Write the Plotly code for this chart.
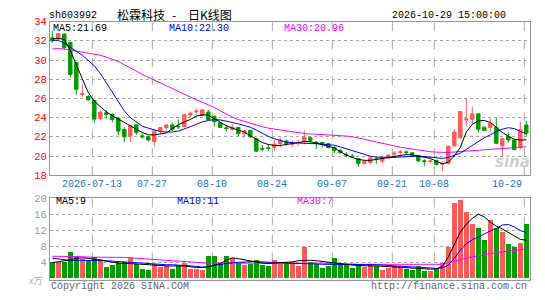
import plotly.graph_objects as go

# ---------------- data ----------------
idx = list(range(80))
opens = [32.3, 32.2, 32.7, 31.85, 29.75, 26.4, 26.2, 25.8, 23.9, 24.5,
         24.35, 23.95, 22.75, 22.1, 23.25, 22.1, 22.0, 21.5, 22.67, 22.97,
         23.23, 23.1, 23.07, 24.25, 24.62, 24.23, 24.57, 24.13, 23.47, 22.93,
         22.8, 22.97, 22.33, 22.67, 21.8, 20.78, 20.85, 20.9, 21.3, 21.57,
         21.23, 21.38, 21.57, 21.9, 21.43, 21.4, 21.3, 20.9, 20.6, 20.17,
         20.0, 19.73, 19.23, 19.33, 19.7, 19.47, 19.8, 20.2, 20.37, 20.43,
         20.33, 20.07, 19.5, 19.43, 19.55, 19.15, 19.23, 21.07, 21.9, 23.75,
         23.83, 24.4, 23.0, 22.97, 22.97, 21.07, 22.07, 21.67, 20.9, 23.23]
highs = [33.0, 32.8, 32.8, 31.9, 29.8, 27.45, 26.35, 25.85, 24.75, 24.8,
         24.4, 24.0, 23.0, 23.2, 23.3, 22.35, 22.05, 22.65, 23.0, 23.25,
         23.5, 23.8, 24.35, 24.63, 24.97, 24.9, 24.83, 24.2, 23.55, 23.23,
         23.33, 23.0, 22.67, 22.73, 21.9, 21.13, 21.23, 21.7, 21.9, 21.7,
         21.63, 21.73, 22.65, 22.07, 21.57, 21.45, 21.35, 21.0, 20.73, 20.4,
         20.23, 19.8, 19.55, 19.9, 19.9, 19.97, 20.2, 20.5, 20.63, 20.57,
         20.4, 20.1, 19.67, 19.67, 19.6, 19.45, 21.07, 22.8, 24.63, 26.0,
         25.13, 24.4, 23.05, 23.9, 23.95, 21.8, 22.45, 21.7, 23.6, 23.67]
lows = [31.8, 32.1, 31.0, 28.2, 26.4, 26.15, 25.75, 23.45, 23.75, 23.9,
        23.5, 22.15, 21.45, 21.45, 22.2, 21.8, 21.5, 20.97, 22.25, 22.67,
        22.55, 22.8, 23.0, 24.07, 24.3, 24.13, 23.73, 23.07, 22.9, 22.57,
        22.63, 22.07, 21.9, 21.9, 20.45, 20.5, 20.5, 20.5, 20.9, 21.07,
        20.9, 21.07, 21.2, 21.23, 20.73, 20.9, 20.8, 20.3, 20.23, 19.9,
        19.77, 18.9, 19.1, 19.13, 19.2, 19.3, 19.75, 19.97, 20.07, 20.15,
        19.97, 19.37, 18.93, 19.23, 19.0, 18.4, 19.13, 20.9, 21.75, 23.2,
        23.3, 22.47, 22.6, 22.55, 21.25, 19.85, 21.4, 20.6, 20.7, 22.13]
closes = [32.0, 32.75, 31.3, 28.5, 26.95, 26.5, 25.85, 23.85, 24.55, 24.35,
          23.8, 22.6, 22.0, 23.15, 22.45, 22.0, 21.67, 22.6, 22.97, 23.23,
          22.8, 23.05, 24.3, 24.45, 24.68, 24.8, 23.8, 23.57, 22.97, 22.87,
          23.0, 22.33, 22.63, 22.0, 20.5, 20.72, 20.8, 21.23, 21.63, 21.3,
          21.4, 21.42, 21.97, 21.63, 21.37, 21.25, 20.88, 20.57, 20.35, 20.1,
          19.95, 19.23, 19.4, 19.8, 19.63, 19.78, 20.1, 20.28, 20.43, 20.38,
          20.1, 19.5, 19.43, 19.48, 19.13, 19.22, 21.03, 22.5, 24.63, 23.85,
          24.4, 22.8, 22.67, 23.4, 21.33, 21.8, 21.67, 20.67, 22.73, 22.4]
ma5 = [32.2, 32.25, 32.15, 31.0, 29.5, 28.0, 26.6, 25.7, 25.1, 24.6,
       24.2, 23.85, 23.5, 23.1, 22.8, 22.45, 22.2, 22.2, 22.3, 22.4,
       22.85, 23.25, 23.55, 23.8, 24.15, 24.3, 24.25, 23.9, 23.5, 23.15,
       22.9, 22.7, 22.5, 22.1, 21.75, 21.4, 21.2, 21.1, 21.1, 21.2,
       21.35, 21.45, 21.5, 21.5, 21.35, 21.15, 21.0, 20.85, 20.45, 20.1,
       19.85, 19.65, 19.55, 19.55, 19.65, 19.75, 19.9, 20.0, 20.1, 20.15,
       20.1, 20.0, 19.85, 19.75, 19.45, 19.2, 19.35, 20.0, 20.9, 22.5,
       23.3, 23.65, 23.7, 23.5, 23.0, 22.45, 22.05, 21.75, 21.65, 21.69]
ma10 = [32.05, 32.05, 31.75, 31.3, 30.9, 30.5, 30.0, 29.4, 28.6, 27.6,
        26.6, 25.6, 24.7, 24.0, 23.5, 23.1, 22.9, 22.7, 22.55, 22.5,
        22.5, 22.6, 22.8, 23.05, 23.3, 23.55, 23.7, 23.8, 23.75, 23.65,
        23.5, 23.35, 23.2, 23.0, 22.7, 22.35, 22.05, 21.8, 21.6, 21.45,
        21.38, 21.33, 21.3, 21.3, 21.28, 21.25, 21.2, 21.13, 20.95, 20.75,
        20.5, 20.3, 20.12, 19.98, 19.88, 19.85, 19.85, 19.85, 19.9, 19.95,
        20.0, 19.98, 19.95, 19.9, 19.8, 19.75, 19.85, 20.05, 20.3, 20.7,
        21.1, 21.5, 21.9, 22.2, 22.55, 22.8, 22.95, 22.85, 22.6, 22.3]
ma30 = [31.15, 31.2, 31.15, 31.05, 30.95, 30.8, 30.7, 30.65, 30.5, 30.3,
        30.1, 29.85, 29.5, 29.2, 28.85, 28.5, 28.2, 27.9, 27.6, 27.3,
        27.0, 26.75, 26.45, 26.15, 25.85, 25.6, 25.35, 25.05, 24.7, 24.35,
        24.05, 23.8, 23.6, 23.4, 23.2, 23.05, 22.9, 22.8, 22.7, 22.6,
        22.5, 22.42, 22.35, 22.3, 22.27, 22.25, 22.23, 22.2, 22.15, 22.08,
        22.0, 21.9, 21.75, 21.6, 21.45, 21.3, 21.15, 21.05, 20.92, 20.82,
        20.72, 20.63, 20.55, 20.45, 20.4, 20.35, 20.37, 20.42, 20.47, 20.52,
        20.57, 20.62, 20.67, 20.72, 20.77, 20.82, 20.87, 20.91, 20.94, 20.96]
volume = [4.1, 4.1, 4.2, 6.5, 5.5, 4.9, 4.3, 5.4, 4.9, 2.8,
          3.4, 3.9, 4.2, 5.1, 3.5, 2.3, 2.1, 3.5, 2.9, 3.1,
          2.3, 3.1, 3.9, 2.3, 2.3, 2.1, 5.7, 5.7, 3.5, 5.5,
          5.0, 3.9, 3.4, 3.7, 4.7, 3.4, 3.1, 4.7, 3.7, 3.9,
          4.2, 3.1, 7.7, 4.2, 3.7, 2.7, 3.1, 5.1, 3.9, 3.5,
          2.5, 3.7, 2.9, 3.5, 3.1, 2.1, 2.6, 3.1, 3.1, 2.3,
          2.1, 3.0, 1.9, 1.9, 2.5, 3.9, 7.9, 18.8, 19.4, 16.4,
          13.6, 12.5, 9.5, 14.5, 12.5, 11.5, 8.6, 7.7, 8.9, 13.6]
vma5 = [3.9, 4.1, 4.3, 4.6, 5.0, 5.1, 5.0, 4.8, 4.6, 4.3,
        4.0, 3.8, 3.7, 3.7, 3.6, 3.4, 3.3, 3.2, 3.1, 3.1,
        3.1, 3.1, 3.1, 2.9, 2.7, 2.7, 2.9, 3.3, 3.7, 4.5,
        5.1, 4.9, 4.6, 4.3, 4.0, 3.8, 3.7, 3.8, 3.9, 3.9,
        4.1, 4.4, 4.5, 4.5, 4.4, 4.2, 4.1, 3.9, 3.7, 3.5,
        3.3, 3.2, 3.1, 3.1, 3.1, 3.0, 2.9, 2.8, 2.7, 2.7,
        2.6, 2.5, 2.4, 2.3, 2.3, 3.0, 5.3, 8.5, 11.5, 13.5,
        14.9, 16.0, 15.3, 14.0, 13.0, 12.3, 11.4, 10.6, 9.7, 9.5]
vma10 = [5.0, 4.8, 4.6, 4.5, 4.5, 4.5, 4.5, 4.5, 4.5, 4.4,
         4.3, 4.2, 4.1, 4.0, 3.9, 3.8, 3.6, 3.5, 3.5, 3.4,
         3.4, 3.3, 3.3, 3.2, 3.0, 2.8, 2.9, 3.2, 3.5, 3.7,
         3.9, 4.0, 4.1, 4.2, 4.2, 4.1, 4.0, 3.9, 3.8, 3.7,
         3.7, 3.7, 3.7, 3.6, 3.6, 3.5, 3.5, 3.5, 3.5, 3.5,
         3.4, 3.4, 3.4, 3.4, 3.4, 3.3, 3.2, 3.1, 3.0, 2.9,
         2.8, 2.7, 2.6, 2.5, 2.5, 2.6, 3.3, 5.0, 7.0, 8.6,
         9.6, 10.3, 11.1, 11.8, 12.4, 13.3, 13.4, 12.8, 11.9, 11.4]
vma30 = [5.5, 5.5, 5.4, 5.4, 5.4, 5.4, 5.3, 5.3, 5.3, 5.3,
         5.3, 5.3, 5.3, 5.2, 5.0, 4.9, 4.7, 4.6, 4.5, 4.4,
         4.3, 4.2, 4.1, 4.0, 3.9, 3.8, 3.8, 3.8, 3.8, 3.9,
         3.9, 3.9, 3.9, 3.9, 3.9, 3.9, 3.9, 3.9, 3.9, 3.9,
         3.9, 3.9, 3.9, 3.9, 3.8, 3.8, 3.7, 3.7, 3.7, 3.6,
         3.6, 3.5, 3.5, 3.5, 3.5, 3.5, 3.5, 3.5, 3.5, 3.5,
         3.5, 3.4, 3.4, 3.4, 3.4, 3.5, 3.9, 4.3, 4.7, 5.0,
         5.4, 5.6, 5.9, 6.2, 6.4, 6.6, 6.8, 6.9, 7.1, 7.3]
tick_idx = [7, 17, 27, 37, 47, 57, 64, 79]
tick_text = ["2026-07-13", "07-27", "08-10", "08-24", "09-07", "09-21", "10-08", "10-29"]
price_ticks = [18, 20, 22, 24, 26, 28, 30, 32, 34]
vol_ticks = [4, 8, 12, 16, 20]
title_code = "sh603992"
title_name = "松霖科技"
title_sep = "-"
title_kind = "日K线图"
title_time = "2026-10-29 15:00:00"

# ---------------- style ----------------
W, H = 545, 300
RED = "#ff5a5a"
GREEN = "#009c00"
GRID = "#a8a8a8"
FRAME = "#999999"
MONO = "Liberation Mono, DejaVu Sans Mono, monospace"
CJK = "Noto Sans CJK SC, sans-serif"
XL, XR = 50, 530
X0PX, STEP = 52.3, 6.0


def px(x):
    return x / W


def py(y):
    return 1 - y / H


xrange_ = [(XL - X0PX) / STEP, (XR - X0PX) / STEP]

fig = go.Figure()
fig.add_trace(go.Candlestick(
    x=idx, open=opens, high=highs, low=lows, close=closes,
    increasing=dict(line=dict(color=RED, width=1), fillcolor=RED),
    decreasing=dict(line=dict(color=GREEN, width=1), fillcolor=GREEN),
    whiskerwidth=0, xaxis="x", yaxis="y", hoverinfo="skip"))
for arr, col in [(ma30, "#ff00ff"), (ma10, "#0000ff"), (ma5, "#000000")]:
    fig.add_trace(go.Scatter(x=idx, y=arr, mode="lines",
                             line=dict(color=col, width=1),
                             xaxis="x", yaxis="y", hoverinfo="skip"))

vcolors = [RED if c >= o else GREEN for o, c in zip(opens, closes)]
fig.add_trace(go.Bar(x=idx, y=volume, marker=dict(color=vcolors, line=dict(width=0)),
                     width=0.84, xaxis="x2", yaxis="y2", hoverinfo="skip"))
for arr, col in [(vma30, "#ff00ff"), (vma10, "#0000ff"), (vma5, "#000000")]:
    fig.add_trace(go.Scatter(x=idx, y=arr, mode="lines",
                             line=dict(color=col, width=1),
                             xaxis="x2", yaxis="y2", hoverinfo="skip"))

axis_common = dict(showline=True, mirror=True, linecolor=FRAME, linewidth=1,
                   zeroline=False, fixedrange=True)
fig.update_layout(
    width=W, height=H, margin=dict(l=0, r=0, t=0, b=0),
    paper_bgcolor="white", plot_bgcolor="white", showlegend=False,
    boxgap=0.18, bargap=0,
    xaxis=dict(domain=[px(XL), px(XR)], range=xrange_, anchor="y",
               showticklabels=False, showgrid=False, ticks="",
               rangeslider=dict(visible=False), **axis_common),
    yaxis=dict(domain=[py(177.3), py(17.3)], range=[18, 34], anchor="x",
               tickvals=price_ticks, ticks="", showgrid=True,
               gridcolor=GRID, griddash="dot", gridwidth=1,
               tickfont=dict(family=MONO, size=10.5, color="#ff0000"),
               **axis_common),
    xaxis2=dict(domain=[px(XL), px(XR)], range=xrange_, anchor="y2",
                showticklabels=False, showgrid=False, ticks="", **axis_common),
    yaxis2=dict(domain=[py(286), py(201)], range=[-0.29, 20], anchor="x2",
                tickvals=vol_ticks, ticks="", showgrid=True,
                gridcolor=GRID, griddash="dot", gridwidth=1,
                tickfont=dict(family=MONO, size=10.5, color="#999999"),
                **axis_common),
)

shapes = []
for t in tick_idx:
    xv = t - 0.33
    for yr in ["y domain", "y2 domain"]:
        shapes.append(dict(type="line", xref="x" if yr == "y domain" else "x2", yref=yr,
                           x0=xv, x1=xv, y0=0, y1=1,
                           line=dict(color=GRID, width=1, dash="dash"), layer="below"))
fig.update_layout(shapes=shapes)

ann = []


def text(x, y, s, color="#000000", size=10, family=MONO, xanchor="left", **kw):
    ann.append(dict(x=px(x), y=py(y), xref="paper", yref="paper", text=s,
                    showarrow=False, xanchor=xanchor, yanchor="middle",
                    font=dict(family=family, size=size, color=color), **kw))


text(47, 11, title_code, size=10)
text(115, 10, title_name, size=12, family=CJK)
text(173.5, 10, title_sep, size=12, family=CJK, xanchor="center")
text(186, 10, title_kind, size=12, family=CJK)
text(508, 11, title_time, size=10, xanchor="right")
text(51, 24, "MA5:%.2f" % ma5[-1], size=10)
text(167, 24, "MA10:%.2f" % ma10[-1], color="#0000ff", size=10)
text(282, 24, "MA30:%.2f" % ma30[-1], color="#ff00ff", size=10)
text(54, 205, "MA5:%d" % int(vma5[-1]), size=10)
text(175, 205, "MA10:%d" % int(vma10[-1]), color="#0000ff", size=10)
text(295, 205, "MA30:%d" % int(vma30[-1]), color="#ff00ff", size=10)
for t, s in zip(tick_idx, tick_text):
    xc = X0PX + STEP * t - 2
    if t == tick_idx[-1]:
        text(524, 186.5, s, color="#1a74c9", size=10, xanchor="right")
    else:
        text(xc, 186.5, s, color="#1a74c9", size=10, xanchor="center")
text(44, 287, "x万", color="#aaaaaa", size=9, family=CJK, xanchor="right")
text(49, 293, "Copyright 2026 SINA.COM", color="#666666", size=10)
text(529, 293, "http://finance.sina.com.cn", color="#666666", size=10, xanchor="right")
text(512, 164, "<b><i>sina</i></b>", color="#d0d0d0", size=15,
     family="DejaVu Sans, sans-serif", xanchor="center")
fig.update_layout(annotations=ann)

fig.write_html("out.html")
